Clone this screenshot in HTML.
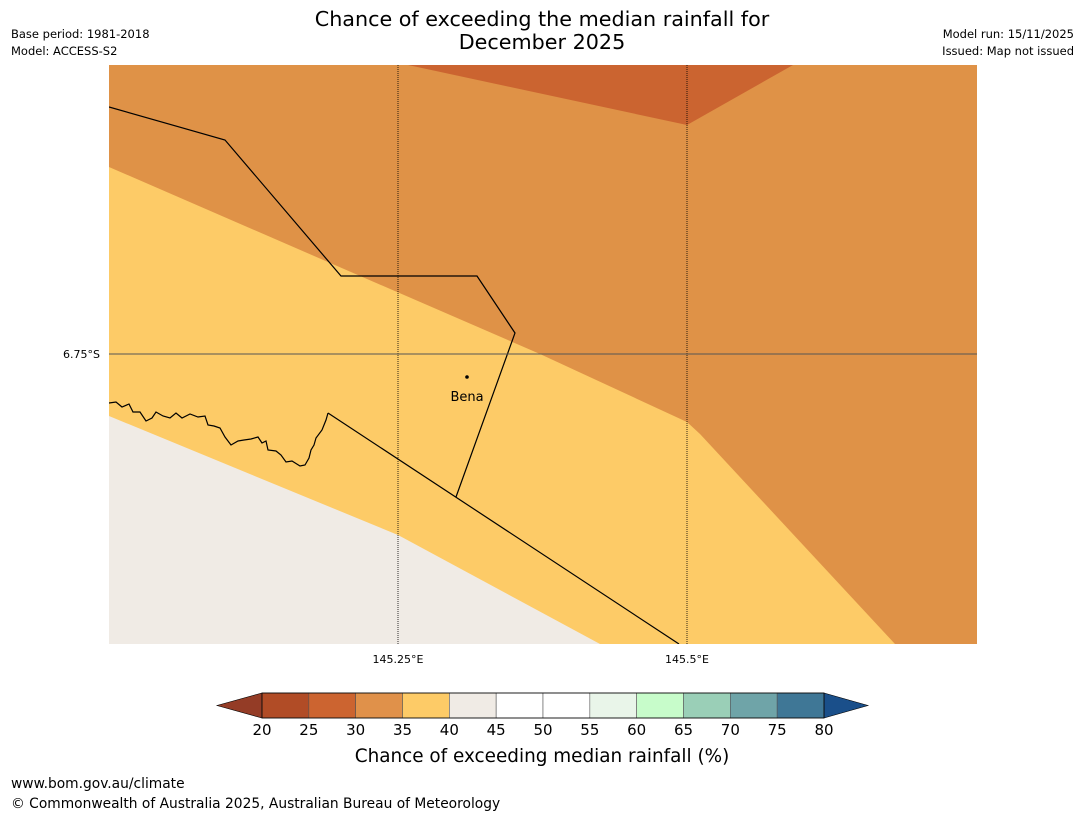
<!DOCTYPE html>
<html><head><meta charset="utf-8"><style>
body{margin:0;background:#fff;width:1085px;height:816px;overflow:hidden;font-family:"Liberation Sans","DejaVu Sans",sans-serif;}
</style></head><body>
<svg width="1085" height="816" xmlns="http://www.w3.org/2000/svg" style="font-family:'DejaVu Sans','Liberation Sans',sans-serif">
<text x="542" y="26" font-size="20.7" text-anchor="middle">Chance of exceeding the median rainfall for</text>
<text x="542" y="49" font-size="20.7" text-anchor="middle">December 2025</text>
<text x="11" y="38" font-size="11.5">Base period: 1981-2018</text>
<text x="11" y="55" font-size="11.5">Model: ACCESS-S2</text>
<text x="1074" y="38" font-size="11.5" text-anchor="end">Model run: 15/11/2025</text>
<text x="1074" y="55" font-size="11.5" text-anchor="end">Issued: Map not issued</text>
<g>
<clipPath id="c"><rect x="109" y="65" width="868" height="579"/></clipPath>
<g clip-path="url(#c)">
<rect x="109" y="65" width="868" height="579" fill="#df9247"/>
<polygon points="408,65 793,65 687,125" fill="#cb6430"/>
<polygon points="109,167 540,354 687,422 700,434 895,644 109,644" fill="#fdcb67"/>
<polygon points="109,416 398,535 600,644 109,644" fill="#f0ebe5"/>
<polyline points="109,107 225,140 341,276 477,276 515,333 456,497" fill="none" stroke="#000" stroke-width="1.2"/>
<polyline points="328,413 679,644" fill="none" stroke="#000" stroke-width="1.2"/>
<polyline points="109,403 116,402 122,407 129,404 133,412 140,412 146,421 152,418 156,412 163,416 170,418 176,413 182,418 190,414 198,417 205,416 208,425 214,426 220,428 225,437 231,445 238,441 244,440 251,439 258,437 262,443 266,441 268,450 276,451 281,455 286,462 292,461 300,466 305,465 309,458 311,450 314,445 316,438 322,430 326,420 328,413" fill="none" stroke="#000" stroke-width="1.2"/>
<line x1="398" y1="65" x2="398" y2="644" stroke="#000" stroke-width="0.8" stroke-dasharray="1,1"/>
<line x1="687" y1="65" x2="687" y2="644" stroke="#000" stroke-width="0.8" stroke-dasharray="1,1"/>
<line x1="109" y1="354" x2="977" y2="354" stroke="#555" stroke-width="1"/>
<circle cx="467" cy="377" r="1.8" fill="#000"/>
<text x="467" y="401" font-size="13" text-anchor="middle">Bena</text>
</g>
</g>
<text x="100" y="358" font-size="11" text-anchor="end">6.75°S</text>
<text x="398" y="663" font-size="11" text-anchor="middle">145.25°E</text>
<text x="687" y="663" font-size="11" text-anchor="middle">145.5°E</text>
<g id="cbar"></g>
<text x="542" y="762" font-size="18.4" text-anchor="middle">Chance of exceeding median rainfall (%)</text>
<text x="11" y="788" font-size="13.8">www.bom.gov.au/climate</text>
<text x="11" y="808" font-size="13.8">© Commonwealth of Australia 2025, Australian Bureau of Meteorology</text>
</svg>
<script>
const ticks=[20,25,30,35,40,45,50,55,60,65,70,75,80];
const binColors=["#b14c26","#cc6430","#e0914a","#fdcb67","#f0ebe5","#ffffff","#ffffff","#e9f5e9","#c7fcca","#9acfb7","#6fa4a8","#3f7796"];
const lowColor="#943c26",highColor="#1a4f8a";
const NS="http://www.w3.org/2000/svg";
const g=document.getElementById('cbar');
const x0=262,x1=824,y0=693,y1=718;
const xs=v=>x0+(v-ticks[0])/(ticks[ticks.length-1]-ticks[0])*(x1-x0);
function mk(t,a){const e=document.createElementNS(NS,t);for(const k in a)e.setAttribute(k,a[k]);g.appendChild(e);return e;}
let p=mk('polygon',{points:`${x0},${y0} ${x0},${y1} 217,${(y0+y1)/2}`,fill:lowColor,stroke:'#000','stroke-width':0.6});


p=mk('polygon',{points:`${x1},${y0} ${x1},${y1} 868,${(y0+y1)/2}`,fill:highColor,stroke:'#000','stroke-width':0.6});


binColors.forEach((c,i)=>{
 const r=mk('rect',{x:xs(ticks[i]),y:y0,width:xs(ticks[i+1])-xs(ticks[i]),height:y1-y0,fill:c,stroke:'#555','stroke-width':0.6});
 
 
});
mk('rect',{x:x0,y:y0,width:x1-x0,height:y1-y0,fill:'none',stroke:'#000','stroke-width':0.8});
ticks.forEach(v=>{
 const t=mk('text',{x:xs(v),y:735,'font-size':15,'text-anchor':'middle'});
 t.textContent=v;
 
 
});
</script>
</body></html>
